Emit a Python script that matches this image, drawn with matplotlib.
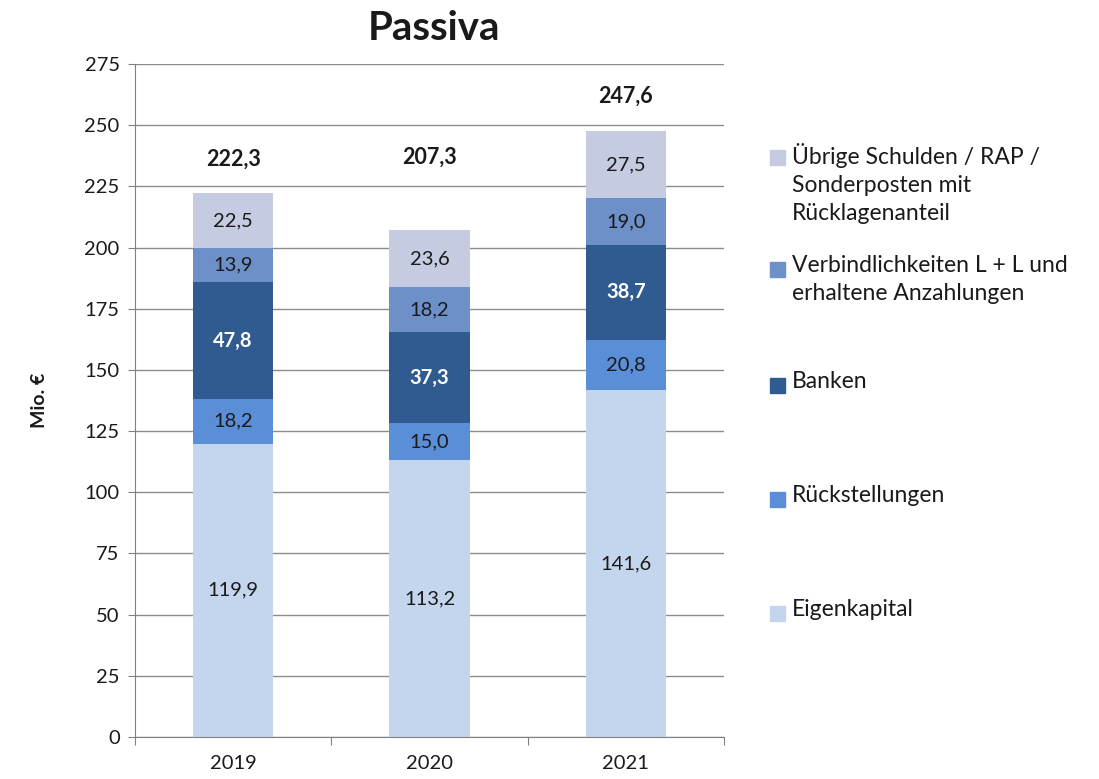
import numpy as np
import matplotlib.pyplot as plt
from matplotlib.patches import Rectangle

plt.rcParams["font.family"] = ["Lato", "DejaVu Sans"]

# --- Data ---
years = ["2019", "2020", "2021"]
eigenkapital = [119.9, 113.2, 141.6]
rueckstellungen = [18.2, 15.0, 20.8]
banken = [47.8, 37.3, 38.7]
verbindlichkeiten = [13.9, 18.2, 19.0]
uebrige = [22.5, 23.6, 27.5]
totals = [222.3, 207.3, 247.6]

series_names = [
    "Eigenkapital",
    "Rückstellungen",
    "Banken",
    "Verbindlichkeiten L + L und\nerhaltene Anzahlungen",
    "Übrige Schulden / RAP /\nSonderposten mit\nRücklagenanteil",
]
series_values = [eigenkapital, rueckstellungen, banken, verbindlichkeiten, uebrige]
colors = ["#c4d5ee", "#5a8ed6", "#2f5b90", "#6e90c8", "#c5cce2"]
label_colors = ["#1a1a1a", "#1a1a1a", "white", "#1a1a1a", "#1a1a1a"]

# where the total labels sit (as in the source chart)
total_label_y = [236, 237, 262]

# --- Figure ---
fig = plt.figure(figsize=(10.99, 7.79), dpi=100)
W, H = 1099, 779
ax = fig.add_axes([135 / W, 1 - 737 / H, (724 - 135) / W, (737 - 64) / H])

x = np.arange(len(years))
bottom = np.zeros(len(years))
for vals, col, lcol in zip(series_values, colors, label_colors):
    vals = np.array(vals)
    ax.bar(x, vals, bottom=bottom, width=0.41, color=col, zorder=2)
    for xi, b, v in zip(x, bottom, vals):
        ax.text(xi, b + v / 2, f"{v:.1f}".replace(".", ","), ha="center", va="center",
                fontsize=14.5, color=lcol, fontweight="bold" if lcol == "white" else "normal",
                zorder=3)
    bottom += vals

for xi, t, ty in zip(x, totals, total_label_y):
    ax.text(xi, ty, f"{t:.1f}".replace(".", ","), ha="center", va="center",
            fontsize=15.5, fontweight="bold", color="#1a1a1a")

ax.set_xlim(-0.5, 2.5)
ax.set_ylim(0, 275)
ax.set_yticks(np.arange(0, 276, 25))
ax.yaxis.grid(True, color="#8c8c8c", linewidth=1)
ax.set_axisbelow(True)
for s in ["top", "right"]:
    ax.spines[s].set_visible(False)
ax.spines["left"].set_color("#808080")
ax.spines["bottom"].set_color("#808080")
ax.tick_params(axis="y", labelsize=14.5, length=5, color="#808080", labelcolor="#1a1a1a", pad=6)

# category ticks between the groups, labels centred below bars
ax.set_xticks([-0.5, 0.5, 1.5, 2.5])
ax.set_xticklabels([])
ax.set_xticks(x, minor=True)
ax.set_xticklabels(years, minor=True, fontsize=14.5, color="#1a1a1a")
ax.tick_params(axis="x", which="major", length=6, color="#808080", direction="out")
ax.tick_params(axis="x", which="minor", length=0, pad=13)

ax.set_ylabel("Mio. €", fontsize=14, fontweight="bold", labelpad=26, color="#1a1a1a")

fig.text(434 / W, 1 - 28 / H, "Passiva", ha="center", va="center",
         fontsize=29, fontweight="bold", color="#1a1a1a")

# --- Legend (manual, top entry first) ---
legend_y = [158, 270, 386, 500, 614]
for name, col, py in zip(series_names[::-1], colors[::-1], legend_y):
    fig.patches.append(Rectangle((770 / W, 1 - (py + 7) / H), 15 / W, 15 / H,
                                 transform=fig.transFigure, color=col))
    fig.text(792 / W, 1 - (py - 15) / H, name, ha="left", va="top",
             fontsize=16.5, color="#1a1a1a", linespacing=1.4)

fig.savefig("out.png", dpi=100)
